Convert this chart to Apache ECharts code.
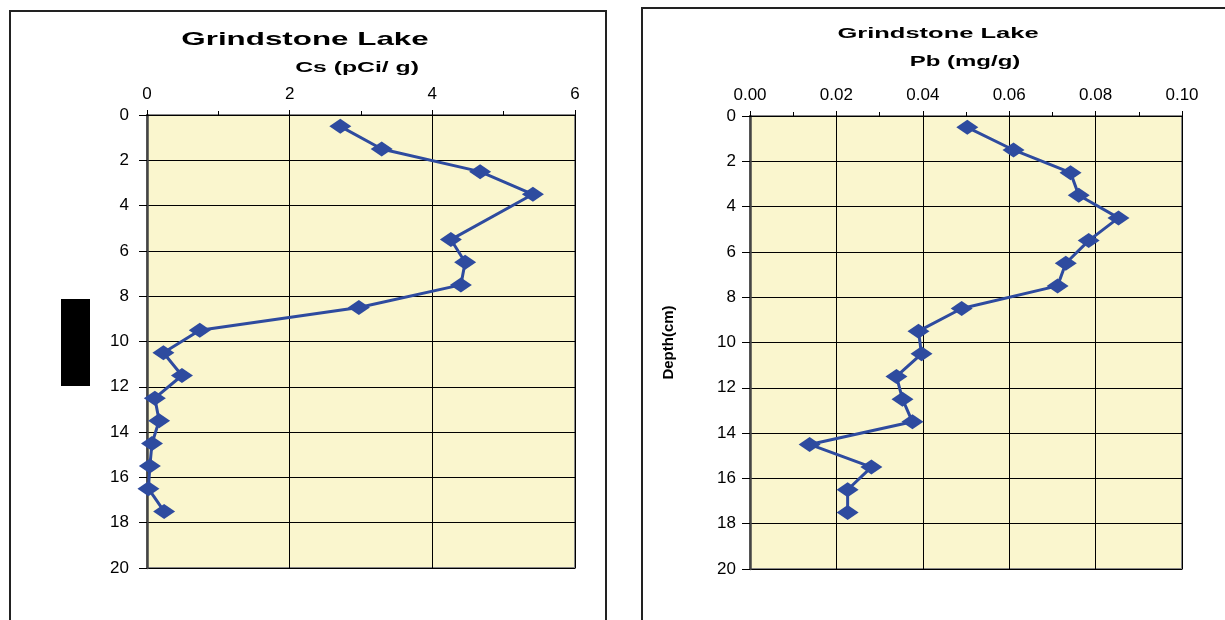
<!DOCTYPE html>
<html>
<head>
<meta charset="utf-8">
<script src="https://cdn.jsdelivr.net/npm/echarts@6/dist/echarts.min.js"></script>
<style>
  html, body { margin: 0; padding: 0; background: #fff; }
  #main { width: 1225px; height: 620px; }
</style>
</head>
<body>
<div id="main"></div>
<script>
// depth of each slice (cm), mid-points
var depths = [0.5, 1.5, 2.5, 3.5, 4.5, 5.5, 6.5, 7.5, 8.5, 9.5, 10.5, 11.5, 12.5, 13.5, 14.5, 15.5, 16.5, 17.5];
// Cs activity (pCi/g), no sample at 4.5 cm
var csValues = [2.71, 3.29, 4.67, 5.41, null, 4.26, 4.46, 4.40, 2.97, 0.74, 0.23, 0.49, 0.11, 0.17, 0.07, 0.04, 0.02, 0.24];
// Pb (mg/g)
var pbValues = [0.0503, 0.0610, 0.0742, 0.0761, 0.0853, 0.0784, 0.0731, 0.0712, 0.0490, 0.0390, 0.0397, 0.0339, 0.0353, 0.0376, 0.0138, 0.0281, 0.0226, 0.0226];
// tick settings
var depthTicks = { min: 0, max: 20, interval: 2 };
var csTicks = { min: 0, max: 6, interval: 2 };
var pbTicks = { min: 0, max: 0.1, interval: 0.02 };

var lineColor = '#2E4B9F';
var plotBg = '#FAF6CE';

function pairs(vals) {
    var out = [];
    for (var i = 0; i < vals.length; i++) {
        if (vals[i] != null) out.push([vals[i], depths[i]]);
    }
    return out;
}

function topAxis(gridIndex, ticks, fmt) {
    return {
        gridIndex: gridIndex,
        type: 'value',
        position: 'top',
        min: ticks.min, max: ticks.max, interval: ticks.interval,
        axisLine: { show: true, lineStyle: { color: '#000', width: 1 } },
        axisTick: { show: true, length: 5, lineStyle: { color: '#000' } },
        minorTick: { show: true, splitNumber: 2, length: 4, lineStyle: { color: '#000' } },
        splitLine: { show: true, lineStyle: { color: '#000', width: 1 } },
        axisLabel: {
            margin: 12, fontSize: 17, color: '#000', fontFamily: 'Arial',
            formatter: fmt
        }
    };
}

function depthAxis(gridIndex, name, margin) {
    return {
        gridIndex: gridIndex,
        type: 'value',
        inverse: true,
        min: depthTicks.min, max: depthTicks.max, interval: depthTicks.interval,
        name: name,
        nameLocation: 'middle',
        nameGap: 74,
        nameRotate: 90,
        nameTextStyle: { fontSize: 15, fontWeight: 'bold', color: '#000', fontFamily: 'Arial' },
        axisLine: { show: true, lineStyle: { color: '#444', width: 2.5 } },
        axisTick: { show: true, length: 8, lineStyle: { color: '#000' } },
        splitLine: { show: true, lineStyle: { color: '#000', width: 1 } },
        axisLabel: { margin: margin, fontSize: 17, color: '#000', fontFamily: 'Arial' }
    };
}

function seriesFor(idx, vals) {
    return {
        type: 'line',
        xAxisIndex: idx,
        yAxisIndex: idx,
        data: pairs(vals),
        symbol: 'diamond',
        symbolSize: [22, 15],
        lineStyle: { color: lineColor, width: 3 },
        itemStyle: { color: lineColor },
        animation: false,
        z: 5
    };
}

function stretchedText(x, y, text, font, sx) {
    return {
        type: 'text', x: x, y: y, scaleX: sx,
        style: {
            text: text, font: font, fill: '#000',
            textAlign: 'center', textVerticalAlign: 'middle',
            align: 'center', verticalAlign: 'middle'
        }
    };
}

var chart = echarts.init(document.getElementById('main'));
chart.setOption({
    animation: false,
    grid: [
        { left: 147, top: 115, width: 428, height: 453, show: true, backgroundColor: plotBg, borderColor: '#888', borderWidth: 2 },
        { left: 750, top: 116, width: 432, height: 453, show: true, backgroundColor: plotBg, borderColor: '#888', borderWidth: 2 }
    ],
    xAxis: [
        topAxis(0, csTicks, function (v) { return String(v); }),
        topAxis(1, pbTicks, function (v) { return v.toFixed(2); })
    ],
    yAxis: [
        depthAxis(0, '', 18),
        depthAxis(1, 'Depth(cm)', 14)
    ],
    series: [
        seriesFor(0, csValues),
        seriesFor(1, pbValues)
    ],
    graphic: [
        { type: 'rect', shape: { x: 10, y: 11, width: 596, height: 700 }, style: { fill: 'none', stroke: '#222', lineWidth: 2 } },
        { type: 'rect', shape: { x: 642, y: 8, width: 700, height: 700 }, style: { fill: 'none', stroke: '#222', lineWidth: 2 } },
        { type: 'rect', shape: { x: 61, y: 299, width: 29, height: 87 }, style: { fill: '#000' } },
        stretchedText(305, 40, 'Grindstone Lake', 'bold 19px Arial', 1.65),
        stretchedText(357, 68, 'Cs (pCi/ g)', 'bold 15px Arial', 1.65),
        stretchedText(938, 34, 'Grindstone Lake', 'bold 15px Arial', 1.7),
        stretchedText(965, 62, 'Pb (mg/g)', 'bold 15px Arial', 1.6)
    ]
});
</script>
</body>
</html>
